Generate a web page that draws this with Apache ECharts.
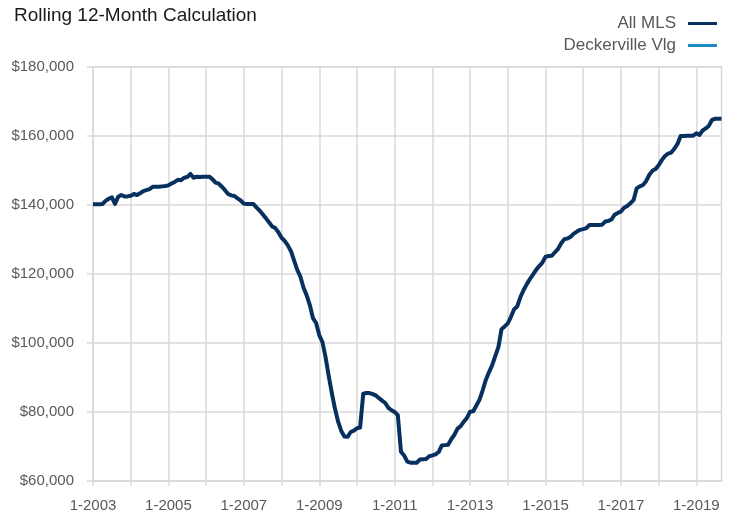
<!DOCTYPE html>
<html>
<head>
<meta charset="utf-8">
<script src="https://cdn.jsdelivr.net/npm/echarts@6/dist/echarts.min.js"></script>
<style>
html,body{margin:0;padding:0;background:#fff;}
#c{width:733px;height:515px;}
</style>
</head>
<body>
<div id="c"></div>
<script>
// Monthly categories: 1-2003 through 9-2019
const startYear = 2003;
const monthCount = 201;
const categories = [];
for (let m = 0; m < monthCount; m++) {
  categories.push((m % 12 + 1) + '-' + (startYear + Math.floor(m / 12)));
}

// All MLS rolling 12-month values
const allMLS = [
  // 2003
  140200,140200,140200,140300,141200,141800,142200,140300,142400,142900,142500,142500,
  // 2004
  142700,143200,142900,143400,144000,144300,144600,145300,145300,145300,145400,145500,
  // 2005
  145700,146200,146700,147300,147200,147900,148100,149000,147900,148200,148100,148200,
  // 2006
  148200,148200,147500,146500,146200,145300,144300,143200,142800,142600,141900,141300,
  // 2007
  140400,140300,140300,140300,139300,138400,137300,136200,135000,133800,133300,132100,
  // 2008
  130500,129600,128300,126600,123900,121200,119200,116000,113800,111000,107200,105800,
  // 2009
  102300,100300,95900,90500,85500,81000,77200,74500,72900,72800,74200,74600,
  // 2010
  75300,75500,85300,85500,85500,85200,84800,84000,83300,82600,81200,80500,
  // 2011
  80000,79100,68500,67400,65600,65300,65300,65300,66200,66300,66400,67200,
  // 2012
  67400,67700,68400,70300,70400,70500,72100,73400,75200,75900,77200,78300,
  // 2013
  80100,80200,81900,83600,86300,89300,91500,93500,96200,98800,104000,104800,
  // 2014
  105700,107600,109800,110600,113300,115300,117000,118500,119800,121200,122300,123300,
  // 2015
  125000,125200,125300,126300,127300,128900,130100,130300,130800,131700,132300,132800,
  // 2016
  133000,133300,134200,134200,134200,134200,134300,135200,135400,135800,137200,137700,
  // 2017
  138100,139200,139700,140500,141400,144800,145400,145800,146900,148700,149900,150400,
  // 2018
  151500,153000,154200,154900,155200,156300,157700,160000,160000,160100,160100,160100,
  // 2019
  160800,160300,161600,162200,163000,164700,165000,165000,165000
];

// Deckerville Vlg: no visible values in the chart
const deckervilleVlg = [];

const seriesNames = ['All MLS', 'Deckerville Vlg'];
const seriesColors = ['#08305f', '#1a8bc6'];

const FONT = '"Liberation Sans", Arial, sans-serif';
const gridColor = '#d9d9d9';

const chart = echarts.init(document.getElementById('c'), null, {renderer: 'canvas'});
chart.setOption({
  animation: false,
  backgroundColor: '#ffffff',
  title: {
    text: 'Rolling 12-Month Calculation',
    left: 9,
    top: 1,
    textStyle: {fontFamily: FONT, fontSize: 19, fontWeight: 'normal', color: '#1a1a1a'}
  },
  legend: {
    orient: 'vertical',
    right: 11,
    top: 10,
    align: 'right',
    itemWidth: 29,
    itemHeight: 3,
    itemGap: 5,
    icon: 'rect',
    data: seriesNames,
    textStyle: {fontFamily: FONT, fontSize: 17, color: '#595959', padding: [0, 7, 0, 0]}
  },
  grid: {
    left: 93,
    right: 11.5,
    top: 67,
    bottom: 34,
    show: true,
    borderColor: gridColor,
    borderWidth: 1.5,
    containLabel: false
  },
  xAxis: {
    type: 'category',
    data: categories,
    boundaryGap: false,
    axisLine: {show: true, lineStyle: {color: gridColor, width: 2}},
    axisTick: {show: true, length: 5, interval: function (i) { return i % 12 === 0; }, lineStyle: {color: gridColor, width: 1.5}},
    splitLine: {show: true, interval: function (i) { return i % 12 === 0; }, lineStyle: {color: gridColor, width: 1.5}},
    axisLabel: {
      interval: function (i) { return i % 24 === 0; },
      margin: 17,
      fontFamily: FONT,
      fontSize: 15,
      color: '#595959'
    }
  },
  yAxis: {
    type: 'value',
    min: 60000,
    max: 180000,
    interval: 20000,
    axisLine: {show: false},
    axisTick: {show: true, length: 6, lineStyle: {color: gridColor, width: 1.5}},
    splitLine: {show: true, lineStyle: {color: gridColor, width: 1.5}},
    axisLabel: {
      margin: 19,
      fontFamily: FONT,
      fontSize: 15,
      color: '#595959',
      formatter: function (v) { return '$' + v.toLocaleString('en-US'); }
    }
  },
  series: [
    {
      name: seriesNames[0],
      type: 'line',
      data: allMLS,
      showSymbol: false,
      symbol: 'none',
      color: seriesColors[0],
      lineStyle: {color: seriesColors[0], width: 4, join: 'round'},
      z: 3
    },
    {
      name: seriesNames[1],
      type: 'line',
      data: deckervilleVlg,
      showSymbol: false,
      symbol: 'none',
      color: seriesColors[1],
      lineStyle: {color: seriesColors[1], width: 4},
      z: 2
    }
  ]
});
</script>
</body>
</html>
